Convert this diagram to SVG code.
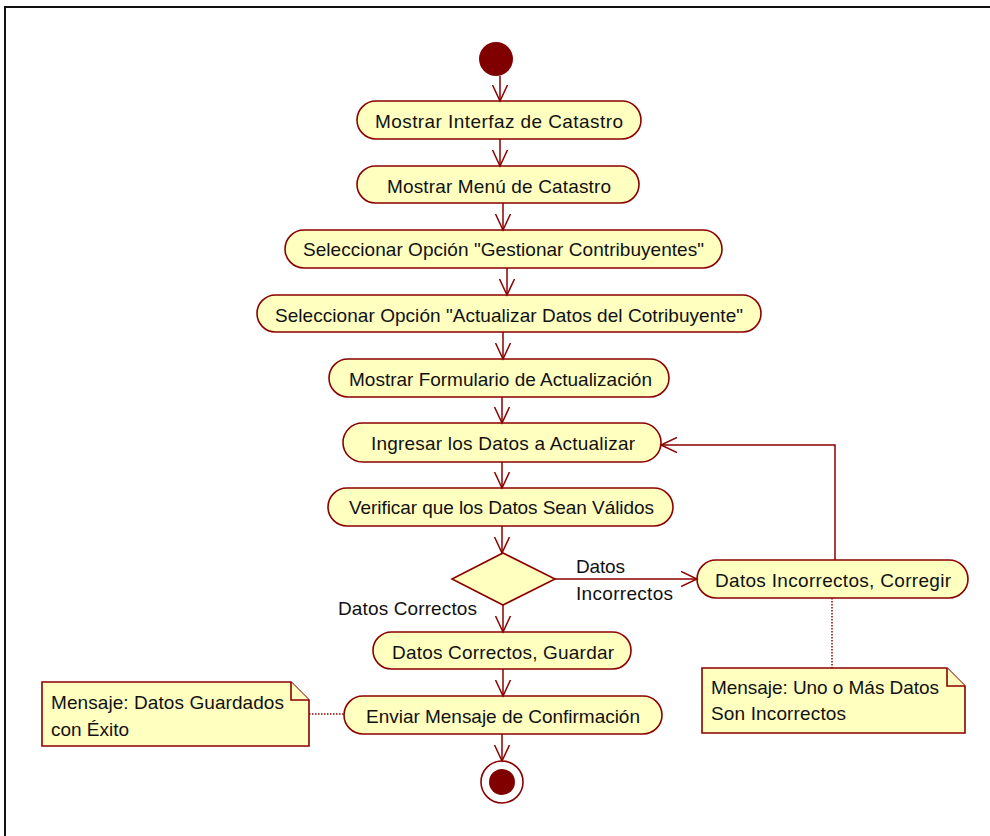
<svg xmlns="http://www.w3.org/2000/svg" width="990" height="836" viewBox="0 0 990 836">
<defs>
<marker id="arr" viewBox="0 0 20 20" refX="16" refY="10" markerWidth="20" markerHeight="20" markerUnits="userSpaceOnUse" orient="auto">
<path d="M0,2.5 L16,10 L0,17.5" fill="none" stroke="#8B0000" stroke-width="1.5"/>
</marker>
</defs>
<style>
.act{fill:#FFFFC0;stroke:#8B0000;stroke-width:1.6}
.note{fill:#FFFFC0;stroke:#8B0000;stroke-width:1.6}
.t{font-family:"Liberation Sans",Arial,sans-serif;font-size:19px;fill:#111}
.c{stroke:#8B0000;stroke-width:1.5;fill:none}
.a{marker-end:url(#arr)}
.d{stroke:#8B0000;stroke-width:1.5;stroke-dasharray:1.5 1.5;fill:none}
</style>
<rect width="990" height="836" fill="#fff"/>
<path d="M5,836 V7 H990" fill="none" stroke="#111" stroke-width="2"/>

<g id="start"><circle cx="496" cy="59" r="17" fill="#800000"/></g>

<g id="n1"><rect class="act" x="357" y="101" width="284" height="38" rx="19"/><text class="t" x="375" y="128" textLength="248">Mostrar Interfaz de Catastro</text></g>
<g id="n2"><rect class="act" x="357" y="166" width="282" height="37" rx="18.5"/><text class="t" x="387" y="193" textLength="224">Mostrar Menú de Catastro</text></g>
<g id="n3"><rect class="act" x="285" y="230" width="437" height="38" rx="19"/><text class="t" x="303" y="256" textLength="401">Seleccionar Opción "Gestionar Contribuyentes"</text></g>
<g id="n4"><rect class="act" x="257" y="295" width="504" height="37" rx="18.5"/><text class="t" x="275" y="322" textLength="468">Seleccionar Opción "Actualizar Datos del Cotribuyente"</text></g>
<g id="n5"><rect class="act" x="329" y="359" width="340" height="38" rx="19"/><text class="t" x="349" y="386" textLength="303">Mostrar Formulario de Actualización</text></g>
<g id="n6"><rect class="act" x="343" y="423" width="318" height="39" rx="19.5"/><text class="t" x="371" y="450" textLength="264">Ingresar los Datos a Actualizar</text></g>
<g id="n7"><rect class="act" x="328" y="488" width="345" height="38" rx="19"/><text class="t" x="349" y="514" textLength="305">Verificar que los Datos Sean Válidos</text></g>
<g id="dec"><polygon class="act" points="503,553 555,579 503,605 452,579"/></g>
<g id="n10"><rect class="act" x="697" y="560" width="271" height="38" rx="19"/><text class="t" x="715" y="587" textLength="236">Datos Incorrectos, Corregir</text></g>
<g id="n8"><rect class="act" x="373" y="632" width="258" height="37" rx="18.5"/><text class="t" x="392" y="659" textLength="222">Datos Correctos, Guardar</text></g>
<g id="n9"><rect class="act" x="344" y="696" width="318" height="38" rx="19"/><text class="t" x="366" y="723" textLength="274">Enviar Mensaje de Confirmación</text></g>
<g id="end"><circle cx="502" cy="782" r="21" fill="#fff" stroke="#8B0000" stroke-width="1.6"/><circle cx="502" cy="782" r="13" fill="#800000"/></g>

<g id="noteL"><path class="note" d="M42,682 H291 L309,700 V746 H42 Z"/><path class="note" d="M291,682 V700 H309"/><text class="t" x="51" y="709" textLength="233">Mensaje: Datos Guardados</text><text class="t" x="51" y="736" textLength="78">con Éxito</text></g>
<g id="noteR"><path class="note" d="M702,668 H947 L965,686 V733 H702 Z"/><path class="note" d="M947,668 V686 H965"/><text class="t" x="711" y="694" textLength="228">Mensaje: Uno o Más Datos</text><text class="t" x="711" y="720" textLength="135">Son Incorrectos</text></g>

<g id="labels">
<text class="t" x="576" y="573" textLength="49">Datos</text>
<text class="t" x="576" y="600" textLength="97">Incorrectos</text>
<text class="t" x="338" y="615" textLength="139">Datos Correctos</text>
</g>

<g id="connectors">
<path class="c a" d="M500,76 V101"/>
<path class="c a" d="M500,139 V166"/>
<path class="c a" d="M503,203 V230"/>
<path class="c a" d="M507,268 V295"/>
<path class="c a" d="M503,332 V359"/>
<path class="c a" d="M502,397 V423"/>
<path class="c a" d="M502,462 V488"/>
<path class="c a" d="M502,526 V553"/>
<path class="c a" d="M503,605 V632"/>
<path class="c a" d="M503,669 V696"/>
<path class="c a" d="M502,734 V761"/>
<path class="c a" d="M555,579 H697"/>
<path class="c a" d="M835,560 V445 H661"/>
<path class="d" d="M832,598 V668"/>
<path class="d" d="M309,714 H344"/>
</g>
</svg>
